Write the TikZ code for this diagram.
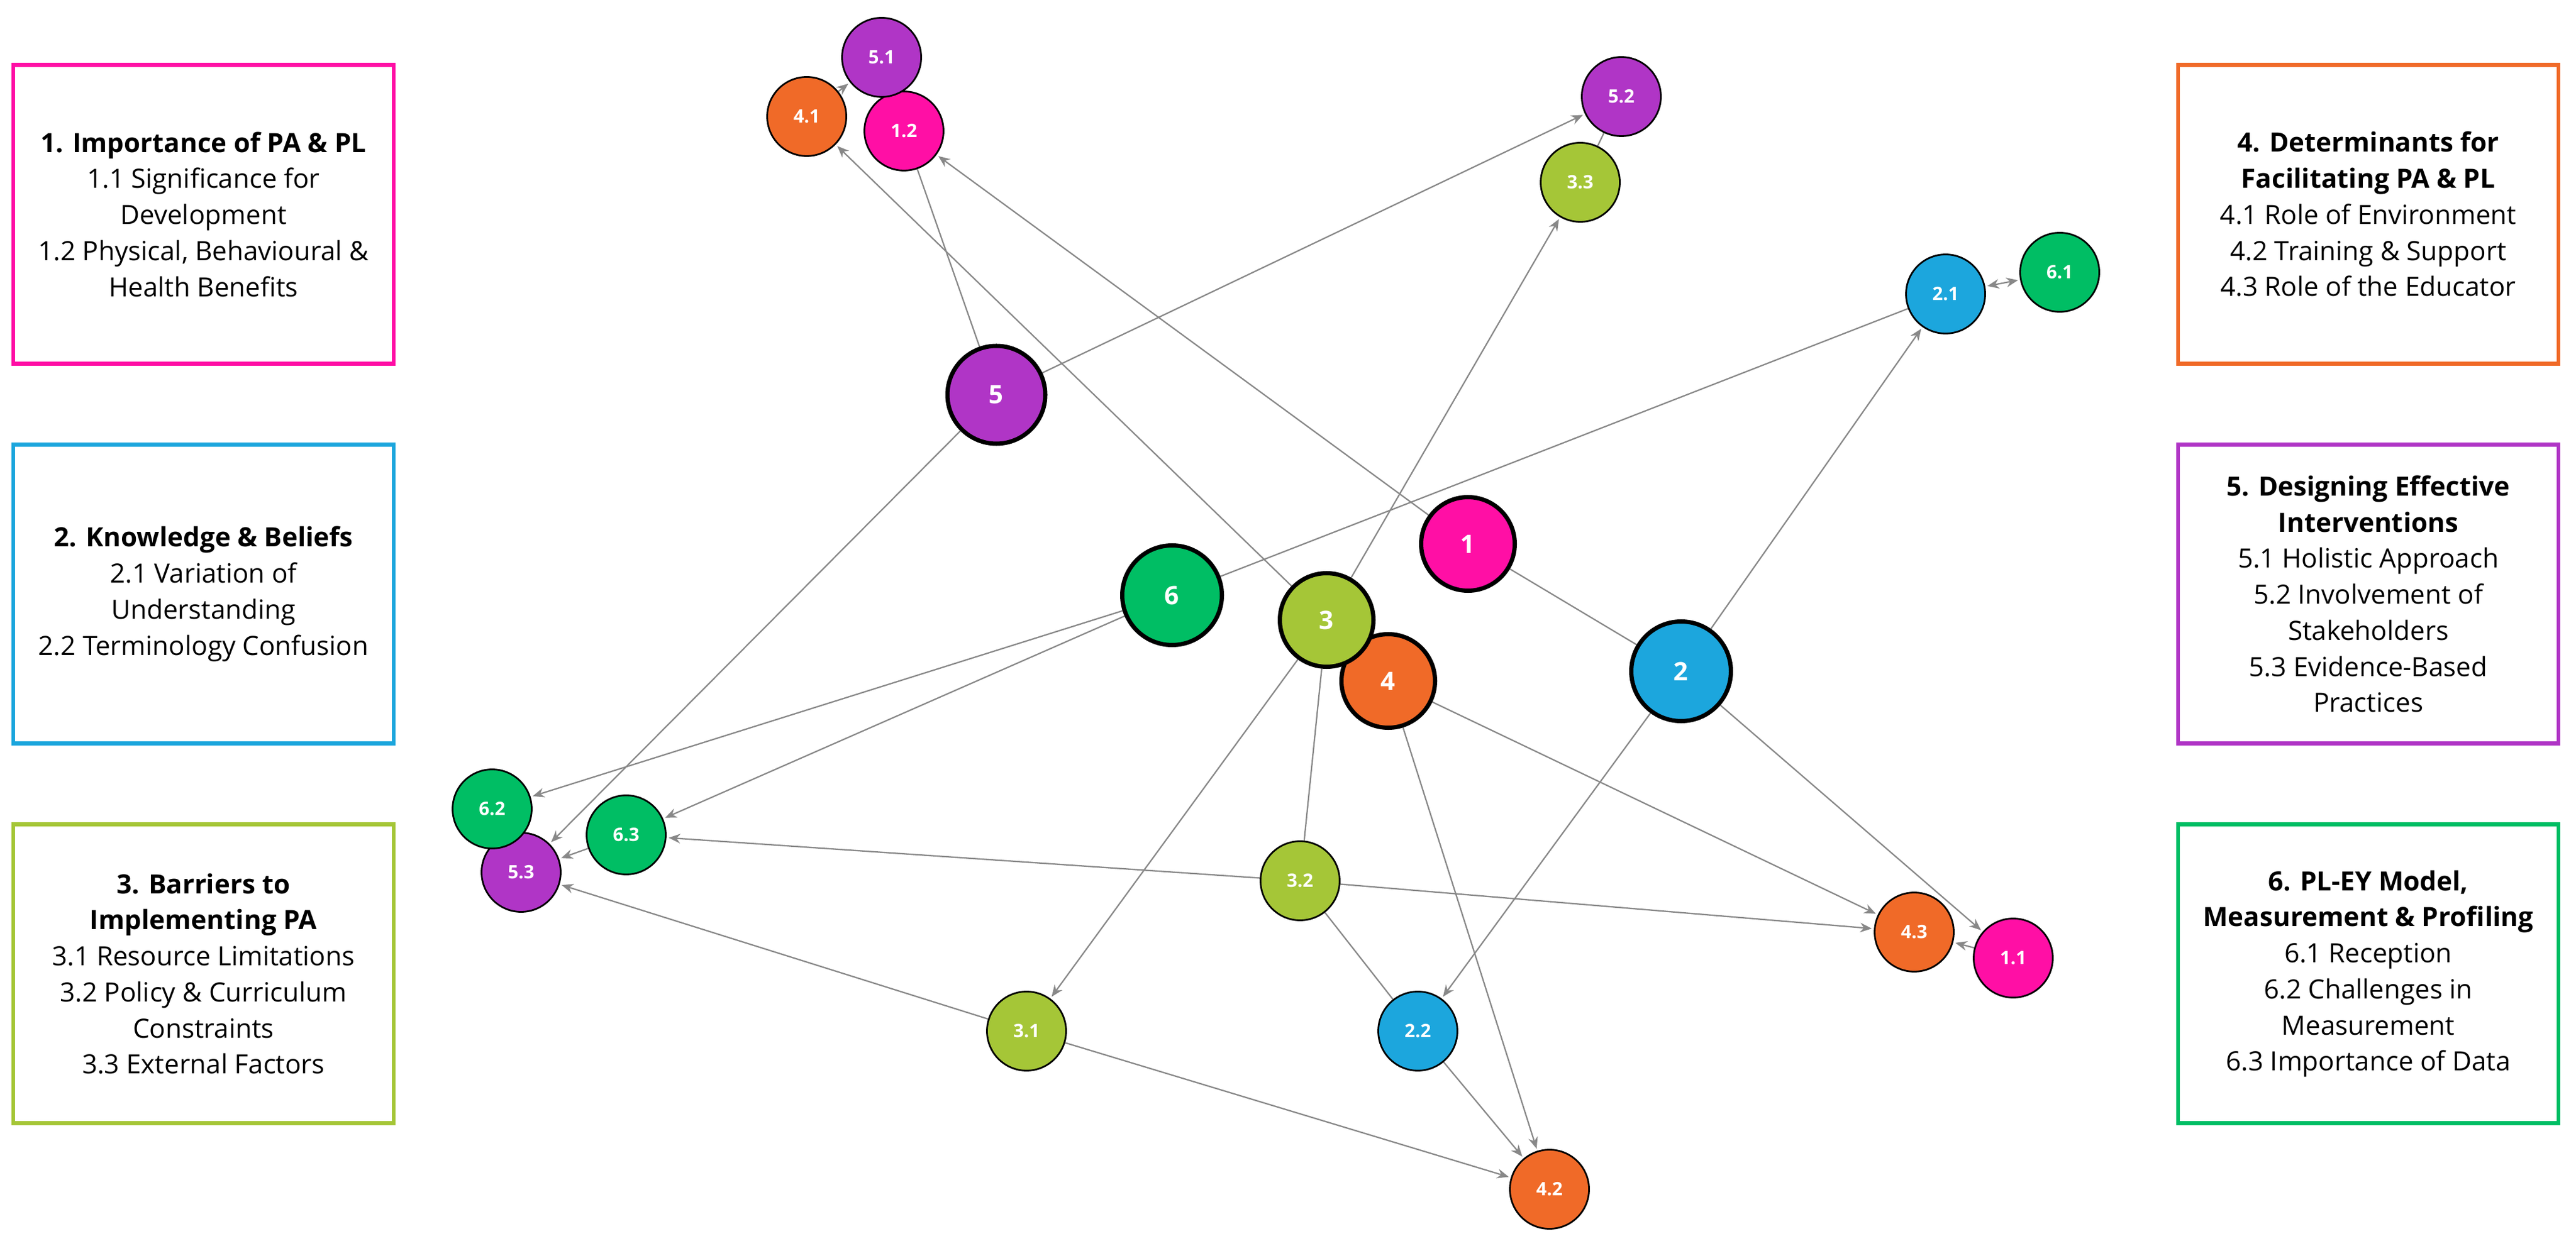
\documentclass[tikz,border=0pt]{standalone}
\usepackage{fontspec}
\setmainfont{Open Sans}
\usetikzlibrary{arrows.meta,backgrounds}
\definecolor{pinkc}{HTML}{FF0FA5}
\definecolor{bluec}{HTML}{1CA6DD}
\definecolor{limec}{HTML}{A5C637}
\definecolor{orangec}{HTML}{F06A28}
\definecolor{purplec}{HTML}{B035C6}
\definecolor{greenc}{HTML}{00BE64}
\definecolor{edgec}{HTML}{888888}
\begin{document}
\begin{tikzpicture}[
  theme/.style={draw=#1, line width=1.9pt, minimum width=6.3cm, minimum height=4.95cm,
    align=center, inner sep=0pt, font=\fontsize{12.5}{17}\selectfont},
  main/.style={circle, draw=black, line width=2pt, fill=#1, minimum size=1.55cm,
    inner sep=0pt, text=white, font=\fontsize{12}{14}\selectfont\bfseries},
  sub/.style={circle, draw=black, line width=0.8pt, fill=#1, minimum size=1.31cm,
    inner sep=0pt, text=white, font=\fontsize{8.7}{10}\selectfont\bfseries},
  link/.style={draw=edgec, line width=0.65pt},
  arr/.style={link, -{Stealth[length=5.5pt,width=4.5pt]}, shorten >=1pt},
  both/.style={link, {Stealth[length=5.5pt,width=4.5pt]}-{Stealth[length=5.5pt,width=4.5pt]}, shorten >=1pt, shorten <=1pt}
]
\useasboundingbox (0,0) rectangle (42.66,20.63);

\node[theme=pinkc] (t1) at (3.37,17.08) {{\bfseries 1. Importance of PA \& PL}\\1.1 Significance for\\Development\\1.2 Physical, Behavioural \&\\Health Benefits};
\node[theme=bluec] (t2) at (3.37,10.79) {{\bfseries 2. Knowledge \& Beliefs}\\2.1 Variation of\\Understanding\\2.2 Terminology Confusion};
\node[theme=limec] (t3) at (3.37,4.50) {{\bfseries 3. Barriers to}\\{\bfseries Implementing PA}\\3.1 Resource Limitations\\3.2 Policy \& Curriculum\\Constraints\\3.3 External Factors};
\node[theme=orangec] (t4) at (39.22,17.08) {{\bfseries 4. Determinants for}\\{\bfseries Facilitating PA \& PL}\\4.1 Role of Environment\\4.2 Training \& Support\\4.3 Role of the Educator};
\node[theme=purplec] (t5) at (39.22,10.79) {{\bfseries 5. Designing Effective}\\{\bfseries Interventions}\\5.1 Holistic Approach\\5.2 Involvement of\\Stakeholders\\5.3 Evidence-Based\\Practices};
\node[theme=greenc] (t6) at (39.22,4.50) {{\bfseries 6. PL-EY Model,}\\{\bfseries Measurement \& Profiling}\\6.1 Reception\\6.2 Challenges in\\Measurement\\6.3 Importance of Data};

\node[main=pinkc] (n1) at (24.31,11.62) {1};
\node[main=bluec, minimum size=1.65cm] (n2) at (27.84,9.51) {2};
\node[main=orangec] (n4) at (22.99,9.35) {4};
\node[main=limec] (n3) at (21.97,10.36) {3};
\node[main=purplec, minimum size=1.62cm] (n5) at (16.50,14.09) {5};
\node[main=greenc, minimum size=1.65cm] (n6) at (19.41,10.77) {6};

\node[sub=pinkc] (s11) at (33.34,4.76) {1.1};
\node[sub=pinkc] (s12) at (14.97,18.46) {1.2};
\node[sub=bluec] (s21) at (32.22,15.76) {2.1};
\node[sub=bluec] (s22) at (23.48,3.55) {2.2};
\node[sub=limec] (s31) at (17.00,3.55) {3.1};
\node[sub=limec] (s32) at (21.53,6.04) {3.2};
\node[sub=limec] (s33) at (26.17,17.61) {3.3};
\node[sub=orangec] (s41) at (13.36,18.70) {4.1};
\node[sub=orangec] (s42) at (25.66,0.93) {4.2};
\node[sub=orangec] (s43) at (31.70,5.19) {4.3};
\node[sub=purplec] (s51) at (14.60,19.68) {5.1};
\node[sub=purplec] (s52) at (26.85,19.03) {5.2};
\node[sub=purplec] (s53) at (8.63,6.18) {5.3};
\node[sub=greenc] (s61) at (34.11,16.12) {6.1};
\node[sub=greenc] (s62) at (8.15,7.23) {6.2};
\node[sub=greenc] (s63) at (10.37,6.80) {6.3};

\begin{scope}[on background layer]
\fill[white] (0,0) rectangle (42.66,20.63);
\draw[arr] (n5) -- (s52);
\draw[link] (n5) -- (s12);
\draw[arr] (n1) -- (s12);
\draw[arr] (n3) -- (s41);
\draw[arr] (s41) -- (s51);
\draw[arr] (n3) -- (s33);
\draw[link] (s33) -- (s52);
\draw[link] (n6) -- (s21);
\draw[arr] (n2) -- (s21);
\draw[both] (s21) -- (s61);
\draw[link] (n1) -- (n2);
\draw[arr] (n6) -- (s62);
\draw[arr] (n6) -- (s63);
\draw[arr] (n5) -- (s53);
\draw[arr] (s63) -- (s53);
\draw[arr] (s32) -- (s63);
\draw[arr] (s31) -- (s53);
\draw[arr] (n3) -- (s31);
\draw[link] (n3) -- (s32);
\draw[arr] (s31) -- (s42);
\draw[link] (s32) -- (s22);
\draw[arr] (s22) -- (s42);
\draw[arr] (n4) -- (s42);
\draw[arr] (n2) -- (s22);
\draw[arr] (n4) -- (s43);
\draw[arr] (s32) -- (s43);
\draw[arr] (n2) -- (s11);
\draw[arr] (s11) -- (s43);
\end{scope}
\end{tikzpicture}
\end{document}
